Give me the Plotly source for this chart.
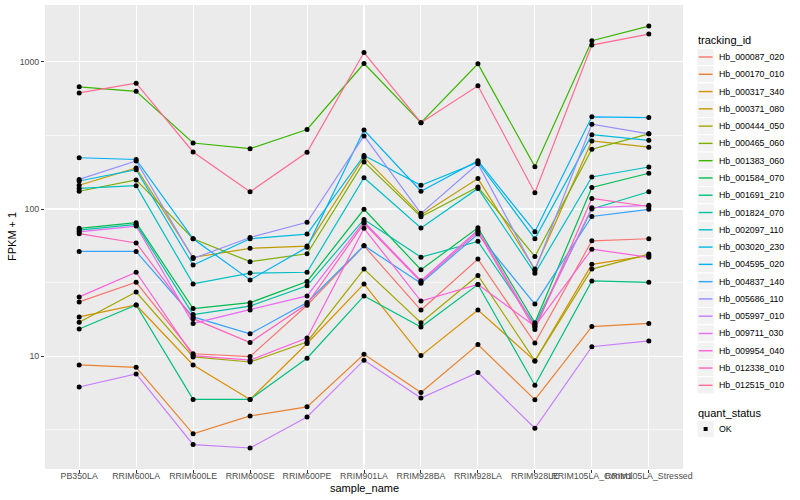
import plotly.graph_objects as go

# ---------------- data ----------------
samples = ["PB350LA", "RRIM600LA", "RRIM600LE", "RRIM600SE", "RRIM600PE", "RRIM901LA",
           "RRIM928BA", "RRIM928LA", "RRIM928LE", "RRIM105LA_Control", "RRIM105LA_Stressed"]

tracking_ids = ["Hb_000087_020", "Hb_000170_010", "Hb_000317_340", "Hb_000371_080",
                "Hb_000444_050", "Hb_000465_060", "Hb_001383_060", "Hb_001584_070",
                "Hb_001691_210", "Hb_001824_070", "Hb_002097_110", "Hb_003020_230",
                "Hb_004595_020", "Hb_004837_140", "Hb_005686_110", "Hb_005997_010",
                "Hb_009711_030", "Hb_009954_040", "Hb_012338_010", "Hb_012515_010"]

colors = ["#F8766D", "#EA8331", "#D89000", "#C09B00", "#A3A500", "#7CAE00", "#39B600",
          "#00BB4E", "#00BF7D", "#00C1A3", "#00BFC4", "#00BAE0", "#00B0F6", "#35A2FF",
          "#9590FF", "#C77CFF", "#E76BF3", "#FA62DB", "#FF62BC", "#FF6C91"]

# FPKM + 1 values, one list per tracking_id, in sample order
hb_000087_020 = [23.4, 31.8, 10.4, 9.95, 22.2, 56.2, 20.6, 45.7, 12.3, 60.8, 62.8]
hb_000170_010 = [8.73, 8.41, 2.97, 3.93, 4.53, 10.3, 5.67, 12.0, 5.07, 15.9, 16.7]
hb_000317_340 = [18.5, 22.3, 8.73, 5.09, 12.2, 31.0, 10.1, 20.6, 9.3, 42.1, 48.3]
hb_000371_080 = [145, 190, 46.9, 54.1, 56.0, 225, 91, 161, 39.1, 290, 263]
hb_000444_050 = [17.0, 27.3, 9.9, 9.14, 12.5, 39.1, 16.9, 35.4, 9.3, 39.1, 49.4]
hb_000465_060 = [132, 157.6, 62.8, 43.9, 49.7, 209, 88.7, 141, 47.6, 255, 324]
hb_001383_060 = [676, 630, 281, 257, 347, 974, 386, 969, 194, 1390, 1750]
hb_001584_070 = [74, 80.7, 21.1, 23.1, 32.2, 99.6, 38.7, 74.6, 16.9, 140, 175]
hb_001691_210 = [15.3, 22.3, 5.09, 5.09, 9.69, 25.7, 15.8, 30.7, 6.35, 32.5, 31.8]
hb_001824_070 = [72, 78.7, 19.2, 21.9, 30.1, 85, 47.1, 60.3, 16.4, 100, 131]
hb_002097_110 = [138, 144, 31.0, 36.7, 37.2, 163, 74.3, 138, 36.6, 165, 193]
hb_003020_230 = [155, 185, 41.6, 62.8, 67.6, 231, 145, 208, 62.8, 320, 293]
hb_004595_020 = [223, 217, 62.8, 33.0, 55.0, 344, 132, 213, 70.1, 423, 418]
hb_004837_140 = [51.5, 51.5, 18.5, 14.2, 23.2, 56.4, 31.3, 67.6, 22.6, 89, 99.6]
hb_005686_110 = [159, 212, 46.1, 64.1, 81.3, 314, 93.5, 203, 38.2, 377, 324]
hb_005997_010 = [6.18, 7.58, 2.51, 2.38, 3.87, 9.4, 5.20, 7.75, 3.24, 11.6, 12.7]
hb_009711_030 = [70, 76.6, 16.7, 20.6, 25.7, 82, 32.6, 72, 15.8, 102, 106]
hb_009954_040 = [25.3, 37.2, 10.1, 9.4, 13.3, 74, 23.7, 30.7, 16.0, 53.4, 47.0]
hb_012338_010 = [68, 58.8, 18.0, 12.4, 22.6, 80, 32, 70, 15.2, 118, 104]
hb_012515_010 = [615, 716, 244, 131, 243, 1157, 386, 687, 129, 1300, 1543]

series_values = [hb_000087_020, hb_000170_010, hb_000317_340, hb_000371_080, hb_000444_050,
                 hb_000465_060, hb_001383_060, hb_001584_070, hb_001691_210, hb_001824_070,
                 hb_002097_110, hb_003020_230, hb_004595_020, hb_004837_140, hb_005686_110,
                 hb_005997_010, hb_009711_030, hb_009954_040, hb_012338_010, hb_012515_010]

y_tick_vals = [10, 100, 1000]
y_tick_text = ["10", "100", "1000"]

# ---------------- geometry helpers ----------------
W, H = 800, 500
L, R, T, B = 45, 683, 5, 469          # panel edges in pixels
FONT = "Liberation Sans, Arial, sans-serif"


def px(xp):
    return (xp - L) / (R - L)


def py(yp):
    return (B - yp) / (B - T)


fig = go.Figure()

for sid, col, vals in zip(tracking_ids, colors, series_values):
    fig.add_trace(go.Scatter(x=samples, y=vals, mode="lines", name=sid,
                             line=dict(color=col, width=1.2),
                             showlegend=False, hoverinfo="skip"))

all_x, all_y = [], []
for vals in series_values:
    all_x.extend(samples)
    all_y.extend(vals)
fig.add_trace(go.Scatter(x=all_x, y=all_y, mode="markers", name="OK",
                         marker=dict(color="black", size=5, line=dict(width=0)),
                         showlegend=False, hoverinfo="skip"))

# ---------------- manual ggplot-like legend ----------------
shapes = []
annotations = []
key_w = 17.28
key_x0 = 697
item0 = 57.0
step = 17.28

annotations.append(dict(x=px(696), y=py(40), xref="paper", yref="paper",
                        text="tracking_id", showarrow=False, xanchor="left", yanchor="middle",
                        font=dict(family=FONT, size=11, color="black")))
for i, (sid, col) in enumerate(zip(tracking_ids, colors)):
    cy = item0 + i * step
    shapes.append(dict(type="rect", xref="paper", yref="paper",
                       x0=px(key_x0), x1=px(key_x0 + key_w),
                       y0=py(cy - step / 2), y1=py(cy + step / 2),
                       fillcolor="#F2F2F2", line=dict(color="white", width=1)))
    shapes.append(dict(type="line", xref="paper", yref="paper",
                       x0=px(key_x0 + 1.7), x1=px(key_x0 + key_w - 1.7),
                       y0=py(cy), y1=py(cy), line=dict(color=col, width=1.4)))
    annotations.append(dict(x=px(717), y=py(cy), xref="paper", yref="paper",
                            text=sid, showarrow=False, xanchor="left", yanchor="middle",
                            font=dict(family=FONT, size=8.8, color="black")))

annotations.append(dict(x=px(696), y=py(412.5), xref="paper", yref="paper",
                        text="quant_status", showarrow=False, xanchor="left", yanchor="middle",
                        font=dict(family=FONT, size=11, color="black")))
cy = 429
shapes.append(dict(type="rect", xref="paper", yref="paper",
                   x0=px(key_x0), x1=px(key_x0 + key_w),
                   y0=py(cy - step / 2), y1=py(cy + step / 2),
                   fillcolor="#F2F2F2", line=dict(color="white", width=1)))
shapes.append(dict(type="rect", xref="paper", yref="paper",
                   x0=px(key_x0 + key_w / 2 - 2), x1=px(key_x0 + key_w / 2 + 2),
                   y0=py(cy - 2), y1=py(cy + 2),
                   fillcolor="black", line=dict(width=0)))
annotations.append(dict(x=px(717), y=py(cy), xref="paper", yref="paper",
                        text="OK", showarrow=False, xanchor="left", yanchor="middle",
                        font=dict(family=FONT, size=8.8, color="black")))

# axis titles
annotations.append(dict(x=px((L + R) / 2), y=py(488), xref="paper", yref="paper",
                        text="sample_name", showarrow=False, xanchor="center", yanchor="middle",
                        font=dict(family=FONT, size=11, color="black")))
annotations.append(dict(x=px(12), y=py((T + B) / 2), xref="paper", yref="paper",
                        text="FPKM + 1", showarrow=False, textangle=-90,
                        xanchor="center", yanchor="middle",
                        font=dict(family=FONT, size=11, color="black")))

fig.update_layout(
    width=W, height=H,
    margin=dict(l=L, r=W - R, t=T, b=H - B, pad=0),
    paper_bgcolor="white",
    plot_bgcolor="#EBEBEB",
    showlegend=False,
    font=dict(family=FONT, size=9, color="#4D4D4D"),
    shapes=shapes,
    annotations=annotations,
    xaxis=dict(type="category", categoryorder="array", categoryarray=samples,
               range=[-0.6, len(samples) - 0.4], showgrid=True, gridcolor="white",
               gridwidth=1.07, zeroline=False, showline=False, ticks="outside",
               ticklen=3, tickwidth=1, tickcolor="#333333", tickangle=0,
               ticklabelstandoff=-5,
               tickfont=dict(family=FONT, size=8.8, color="#4D4D4D")),
    yaxis=dict(type="log", range=[0.234, 3.386], tickmode="array",
               tickvals=y_tick_vals, ticktext=y_tick_text,
               showgrid=True, gridcolor="white", gridwidth=1.07,
               minor=dict(tickmode="array", tickvals=[10 ** 0.5, 10 ** 1.5, 10 ** 2.5],
                          showgrid=True, gridcolor="white", gridwidth=0.53, ticks=""),
               zeroline=False, showline=False, ticks="outside", ticklen=3,
               tickwidth=1, tickcolor="#333333",
               tickfont=dict(family=FONT, size=8.8, color="#4D4D4D")),
)

# remove the browser's default 8px body margin so the figure sits at the page origin
fig.write_html("out.html",
               config={"displayModeBar": False, "staticPlot": True},
               post_script="document.body.style.margin='0';document.body.style.overflow='hidden';")
